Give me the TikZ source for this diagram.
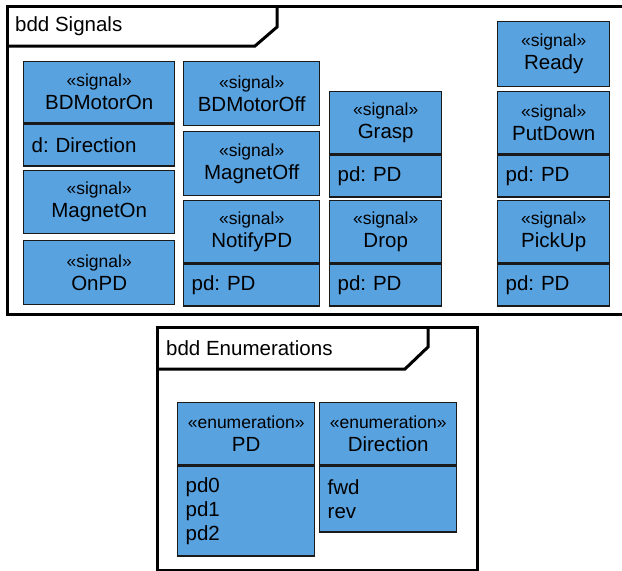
\documentclass[tikz,border=0pt]{standalone}
\usepackage{fontspec}
\setmainfont{Liberation Sans}
\usetikzlibrary{positioning}
\definecolor{umlblue}{HTML}{58A2E0}
\definecolor{umledge}{HTML}{1A1A1A}
\newcommand{\sigst}{{\fontsize{17.5}{24}\selectfont «signal»}}
\newcommand{\enumst}{{\fontsize{17.5}{24}\selectfont «enumeration»}}
\frenchspacing

\begin{document}
\begin{tikzpicture}[x=1pt,y=-1pt,
node distance=0pt,
frm/.style={draw=black,line width=3pt},
tabline/.style={draw=black,line width=3pt,line join=miter},
ftitle/.style={anchor=west,inner sep=0pt,font=\fontsize{20.5}{24}\selectfont},
hdr/.style={draw=umledge,fill=umlblue,line width=1.4pt,inner sep=0pt,anchor=north west,
align=center,font=\fontsize{20.5}{23}\selectfont},
cmp/.style={draw=umledge,fill=umlblue,line width=1.4pt,inner xsep=8pt,inner ysep=0pt,
minimum height=42pt,align=left,font=\fontsize{20.5}{24}\selectfont}
]
\useasboundingbox (0,0) rectangle (622,571);

% frames
\draw[frm] (7,6) rectangle (632,314);
\draw[tabline] (277,6) -- (277,27) -- (255,46) -- (7,46);
\node[ftitle] (sigtitle) at (15,26) {bdd Signals};

\draw[frm] (157,327) rectangle (477,570);
\draw[tabline] (428,327) -- (428,347) -- (405,369) -- (157,369);
\node[ftitle] (enumtitle) at (166,348) {bdd Enumerations};

% signals, first column
\node[hdr,minimum width=151pt,minimum height=61pt] (bdon) at (23,61) {\sigst\\BDMotorOn};
\node[cmp,text width=135pt,below=of bdon] (bdon-a) {d: Direction};
\node[hdr,minimum width=151pt,minimum height=63pt] (mgon) at (23,170) {\sigst\\MagnetOn};
\node[hdr,minimum width=151pt,minimum height=64pt] (onpd) at (23,240) {\sigst\\OnPD};

% second column
\node[hdr,minimum width=136pt,minimum height=64pt] (bdoff) at (183,61) {\sigst\\BDMotorOff};
\node[hdr,minimum width=136pt,minimum height=64pt] (mgoff) at (183,131) {\sigst\\MagnetOff};
\node[hdr,minimum width=136pt,minimum height=62pt] (notify) at (183,200) {\sigst\\NotifyPD};
\node[cmp,text width=120pt,below=of notify] (notify-a) {pd: PD};

% third column
\node[hdr,minimum width=112pt,minimum height=62pt] (grasp) at (329,91) {\sigst\\Grasp};
\node[cmp,text width=96pt,below=of grasp] (grasp-a) {pd: PD};
\node[hdr,minimum width=112pt,minimum height=62pt] (drop) at (329,200) {\sigst\\Drop};
\node[cmp,text width=96pt,below=of drop] (drop-a) {pd: PD};

% fourth column
\node[hdr,minimum width=112pt,minimum height=65pt] (ready) at (497,21) {\sigst\\Ready};
\node[hdr,minimum width=112pt,minimum height=62pt] (putdown) at (497,91) {\sigst\\PutDown};
\node[cmp,text width=96pt,below=of putdown] (putdown-a) {pd: PD};
\node[hdr,minimum width=112pt,minimum height=62pt] (pickup) at (497,200) {\sigst\\PickUp};
\node[cmp,text width=96pt,below=of pickup] (pickup-a) {pd: PD};

% enumerations
\node[hdr,minimum width=137pt,minimum height=62pt] (pd) at (177,402) {\enumst\\PD};
\node[cmp,text width=121pt,minimum height=90pt,below=of pd] (pd-a) {pd0\\pd1\\pd2};
\node[hdr,minimum width=137pt,minimum height=62pt] (dir) at (319,402) {\enumst\\Direction};
\node[cmp,text width=121pt,minimum height=66pt,below=of dir] (dir-a) {fwd\\rev};
\end{tikzpicture}
\end{document}
